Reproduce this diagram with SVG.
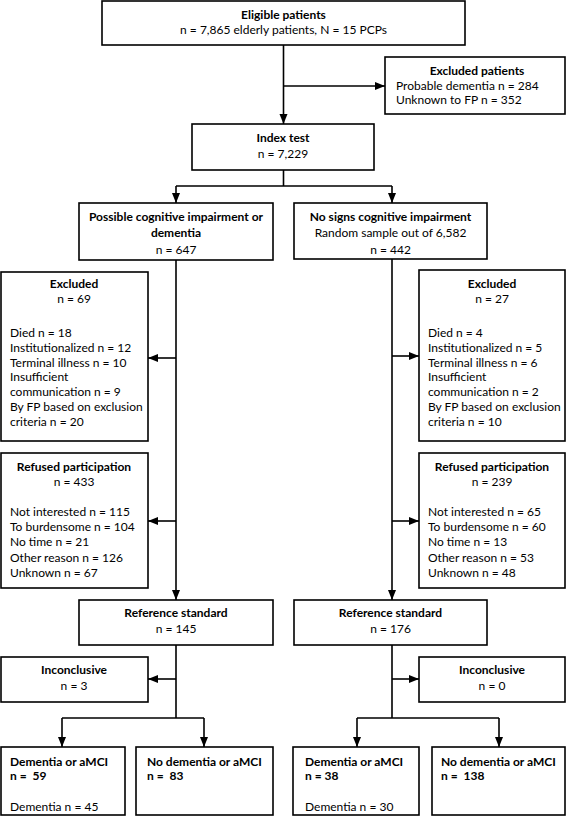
<svg xmlns="http://www.w3.org/2000/svg" width="567" height="816" viewBox="0 0 567 816">
<style>
text{font-family:Lato,"Liberation Sans",sans-serif;font-size:12px;fill:#000;white-space:pre}
.b{font-weight:bold}
.c{text-anchor:middle}
rect{fill:#fff;stroke:#000;stroke-width:1.6}
.ln{fill:none;stroke:#000;stroke-width:1.6}
</style>
<defs>
<marker id="ah" markerUnits="userSpaceOnUse" markerWidth="10" markerHeight="10" viewBox="0 0 10 10" refX="10" refY="5" orient="auto">
<path d="M0,1 L10,5 L0,9 Z" fill="#000"/>
</marker>
</defs>
<rect x="0" y="0" width="567" height="816" style="fill:#fff;stroke:none"/>
<g id="connectors">
<path class="ln" d="M283.5,45 V124" marker-end="url(#ah)"/>
<path class="ln" d="M283.5,86 H385" marker-end="url(#ah)"/>
<path class="ln" d="M283.5,170 V186 M176,186 H392"/>
<path class="ln" d="M176,186 V203" marker-end="url(#ah)"/>
<path class="ln" d="M392,186 V203" marker-end="url(#ah)"/>
<path class="ln" d="M176,260 V600" marker-end="url(#ah)"/>
<path class="ln" d="M176,358 H148" marker-end="url(#ah)"/>
<path class="ln" d="M176,521 H148" marker-end="url(#ah)"/>
<path class="ln" d="M392,259 V600" marker-end="url(#ah)"/>
<path class="ln" d="M392,356 H419" marker-end="url(#ah)"/>
<path class="ln" d="M392,521 H419" marker-end="url(#ah)"/>
<path class="ln" d="M176,645 V718 M62,718 H204"/>
<path class="ln" d="M176,679 H148" marker-end="url(#ah)"/>
<path class="ln" d="M62,718 V747" marker-end="url(#ah)"/>
<path class="ln" d="M204,718 V747" marker-end="url(#ah)"/>
<path class="ln" d="M392,645 V718 M357,718 H499"/>
<path class="ln" d="M392,679 H419" marker-end="url(#ah)"/>
<path class="ln" d="M357,718 V747" marker-end="url(#ah)"/>
<path class="ln" d="M499,718 V747" marker-end="url(#ah)"/>
</g>
<g id="eligible">
<rect x="102" y="1" width="363" height="44"/>
<text class="b c" x="283.5" y="19">Eligible patients</text>
<text class="c" x="283.5" y="34">n = 7,865 elderly patients, N = 15 PCPs</text>
</g>
<g id="excluded-patients">
<rect x="385" y="57" width="180" height="57"/>
<text class="b c" x="477" y="75">Excluded patients</text>
<text x="396" y="90">Probable dementia n = 284</text>
<text x="396" y="104">Unknown to FP n = 352</text>
</g>
<g id="index-test">
<rect x="192" y="124" width="182" height="46"/>
<text class="b c" x="283" y="142">Index test</text>
<text class="c" x="283" y="158">n = 7,229</text>
</g>
<g id="possible">
<rect x="79" y="203" width="194" height="57"/>
<text class="b c" x="176" y="221">Possible cognitive impairment or</text>
<text class="b c" x="176" y="237">dementia</text>
<text class="c" x="176" y="254">n = 647</text>
</g>
<g id="no-signs">
<rect x="294" y="203" width="193" height="56"/>
<text class="b c" x="390.5" y="221">No signs cognitive impairment</text>
<text class="c" x="390.5" y="237">Random sample out of 6,582</text>
<text class="c" x="390.5" y="254">n = 442</text>
</g>
<g id="excluded-left">
<rect x="1" y="272" width="147" height="169"/>
<text class="b c" x="74" y="287.5">Excluded</text>
<text class="c" x="74" y="302.5">n = 69</text>
<text x="10" y="337">Died n = 18</text>
<text x="10" y="351.8">Institutionalized n = 12</text>
<text x="10" y="366.6">Terminal illness n = 10</text>
<text x="10" y="381.4">Insufficient</text>
<text x="10" y="396.2">communication n = 9</text>
<text x="10" y="411">By FP based on exclusion</text>
<text x="10" y="425.8">criteria n = 20</text>
</g>
<g id="excluded-right">
<rect x="419" y="270" width="146" height="171"/>
<text class="b c" x="492" y="287.5">Excluded</text>
<text class="c" x="492" y="302.5">n = 27</text>
<text x="428" y="337">Died n = 4</text>
<text x="428" y="351.8">Institutionalized n = 5</text>
<text x="428" y="366.6">Terminal illness n = 6</text>
<text x="428" y="381.4">Insufficient</text>
<text x="428" y="396.2">communication n = 2</text>
<text x="428" y="411">By FP based on exclusion</text>
<text x="428" y="425.8">criteria n = 10</text>
</g>
<g id="refused-left">
<rect x="1" y="453" width="147" height="135"/>
<text class="b c" x="74" y="471">Refused participation</text>
<text class="c" x="74" y="486">n = 433</text>
<text x="10" y="516">Not interested n = 115</text>
<text x="10" y="531.2">To burdensome n = 104</text>
<text x="10" y="546.4">No time n = 21</text>
<text x="10" y="561.6">Other reason n = 126</text>
<text x="10" y="576.8">Unknown n = 67</text>
</g>
<g id="refused-right">
<rect x="419" y="453" width="146" height="135"/>
<text class="b c" x="492" y="471">Refused participation</text>
<text class="c" x="492" y="486">n = 239</text>
<text x="428" y="516">Not interested n = 65</text>
<text x="428" y="531.2">To burdensome n = 60</text>
<text x="428" y="546.4">No time n = 13</text>
<text x="428" y="561.6">Other reason n = 53</text>
<text x="428" y="576.8">Unknown n = 48</text>
</g>
<g id="reference-left">
<rect x="79" y="600" width="194" height="45"/>
<text class="b c" x="176" y="617">Reference standard</text>
<text class="c" x="176" y="633">n = 145</text>
</g>
<g id="reference-right">
<rect x="294" y="600" width="193" height="45"/>
<text class="b c" x="390.5" y="617">Reference standard</text>
<text class="c" x="390.5" y="633">n = 176</text>
</g>
<g id="inconclusive-left">
<rect x="1" y="657" width="147" height="45"/>
<text class="b c" x="74" y="674">Inconclusive</text>
<text class="c" x="74" y="690">n = 3</text>
</g>
<g id="inconclusive-right">
<rect x="419" y="657" width="146" height="45"/>
<text class="b c" x="492" y="674">Inconclusive</text>
<text class="c" x="492" y="690">n = 0</text>
</g>
<g id="dementia-left">
<rect x="1" y="747" width="124" height="68"/>
<text class="b" x="10" y="766">Dementia or aMCI</text>
<text class="b" x="10" y="780">n =  59</text>
<text x="10" y="811">Dementia n = 45</text>
</g>
<g id="nodementia-left">
<rect x="136" y="747" width="137" height="68"/>
<text class="b" x="147" y="766">No dementia or aMCI</text>
<text class="b" x="147" y="780">n =  83</text>
</g>
<g id="dementia-right">
<rect x="293" y="747" width="126" height="68"/>
<text class="b" x="305" y="766">Dementia or aMCI</text>
<text class="b" x="305" y="780">n = 38</text>
<text x="305" y="811">Dementia n = 30</text>
</g>
<g id="nodementia-right">
<rect x="432" y="747" width="133" height="68"/>
<text class="b" x="441" y="766">No dementia or aMCI</text>
<text class="b" x="441" y="780">n =  138</text>
</g>
</svg>
